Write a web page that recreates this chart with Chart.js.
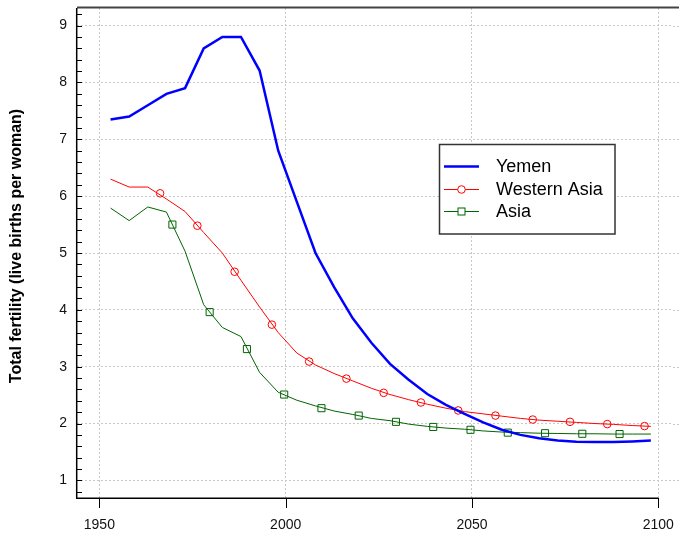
<!DOCTYPE html>
<html>
<head>
<meta charset="utf-8">
<script src="https://cdn.jsdelivr.net/npm/chart.js@4.4.0/dist/chart.umd.min.js"></script>
<style>
    html, body { margin: 0; padding: 0; background: #fff; }
    #wrap { width: 679px; height: 535px; }
</style>
</head>
<body>
<div id="wrap"><canvas id="tfrChart" width="679" height="535"></canvas></div>
<script>
// Five-year period midpoints
const years = [1953, 1958, 1963, 1968, 1973, 1978, 1983, 1988, 1993, 1998,
    2003, 2008, 2013, 2018, 2023, 2028, 2033, 2038, 2043, 2048,
    2053, 2058, 2063, 2068, 2073, 2078, 2083, 2088, 2093, 2098];

const yemenTfr = [7.35, 7.40, 7.60, 7.80, 7.90, 8.60, 8.80, 8.80, 8.21, 6.80,
    5.90, 5.00, 4.40, 3.85, 3.42, 3.05, 2.77, 2.52, 2.33, 2.17,
    2.02, 1.89, 1.80, 1.74, 1.70, 1.68, 1.675, 1.675, 1.685, 1.70];

const westernAsiaTfr = [6.30, 6.16, 6.16, 5.95, 5.73, 5.36, 5.00, 4.52, 4.05, 3.60,
    3.24, 3.03, 2.88, 2.75, 2.62, 2.51, 2.42, 2.34, 2.27, 2.21,
    2.17, 2.13, 2.09, 2.06, 2.04, 2.02, 2.00, 1.985, 1.965, 1.95];

const asiaTfr = [5.79, 5.57, 5.81, 5.72, 5.03, 4.09, 3.69, 3.53, 2.90, 2.55,
    2.41, 2.31, 2.22, 2.16, 2.09, 2.05, 1.99, 1.95, 1.92, 1.90,
    1.87, 1.85, 1.84, 1.83, 1.825, 1.82, 1.82, 1.815, 1.815, 1.815];

// Marker symbols (placed along the lines)
const westernAsiaMarkerYears = [1966.3, 1976.3, 1986.3, 1996.3, 2006.3, 2016.3, 2026.3,
    2036.3, 2046.3, 2056.3, 2066.3, 2076.3, 2086.3, 2096.3];
const westernAsiaMarkerTfr = [6.05, 5.48, 4.67, 3.74, 3.09, 2.79, 2.54,
    2.37, 2.23, 2.14, 2.07, 2.03, 1.99, 1.955];

const asiaMarkerYears = [1969.6, 1979.6, 1989.6, 1999.6, 2009.6, 2019.6, 2029.6,
    2039.6, 2049.6, 2059.6, 2069.6, 2079.6, 2089.6];
const asiaMarkerTfr = [5.50, 3.96, 3.31, 2.51, 2.27, 2.14, 2.03,
    1.94, 1.89, 1.84, 1.83, 1.82, 1.815];

const seriesNames = ['Yemen', 'Western Asia', 'Asia'];
const xTicks = [1950, 2000, 2050, 2100];
const yTicks = [1, 2, 3, 4, 5, 6, 7, 8, 9];

const BLUE = '#0000ff';
const RED = '#ff0000';
const GREEN = '#006400';
const GRID = '#c8c8c8';
const FONT = '"Liberation Sans", Arial, sans-serif';

const toPoints = (xs, ys) => xs.map((x, i) => ({ x: x, y: ys[i] }));

// axes, inward ticks, top frame line, y title and legend, drawn by hand
const framePlugin = {
    id: 'frame',
    beforeDatasetsDraw(chart) {
        // chart area stops a few px short of the canvas edge; carry the dotted grid on
        const { ctx, chartArea: a, scales: { y } } = chart;
        ctx.save();
        ctx.strokeStyle = GRID;
        ctx.lineWidth = 1;
        ctx.setLineDash([2, 2]);
        yTicks.forEach(v => {
            const py = Math.round(y.getPixelForValue(v)) + 0.5;
            ctx.beginPath();
            ctx.moveTo(a.right, py);
            ctx.lineTo(chart.width, py);
            ctx.stroke();
        });
        ctx.restore();
    },
    afterDatasetsDraw(chart) {
        const { ctx, chartArea: a, scales: { x, y } } = chart;
        ctx.save();
        ctx.setLineDash([]);

        // top frame line
        ctx.strokeStyle = '#444';
        ctx.lineWidth = 2;
        ctx.beginPath();
        ctx.moveTo(a.left, a.top - 0.5);
        ctx.lineTo(chart.width, a.top - 0.5);
        ctx.stroke();

        ctx.strokeStyle = '#000';
        ctx.lineWidth = 1.5;
        // left axis
        ctx.beginPath();
        ctx.moveTo(a.left - 0.3, a.top);
        ctx.lineTo(a.left - 0.3, a.bottom);
        ctx.stroke();
        // bottom axis, stops at the last tick
        ctx.beginPath();
        ctx.moveTo(a.left - 1, a.bottom + 0.3);
        ctx.lineTo(x.getPixelForValue(xTicks[xTicks.length - 1]), a.bottom + 0.3);
        ctx.stroke();

        // y ticks every 0.2, pointing inward
        ctx.lineWidth = 1;
        for (let k = 4; k <= 46; k++) {
            const py = Math.round(y.getPixelForValue(k / 5)) + 0.5;
            ctx.beginPath();
            ctx.moveTo(a.left, py);
            ctx.lineTo(a.left + 5, py);
            ctx.stroke();
        }
        // x ticks, pointing down
        xTicks.forEach(v => {
            const px = Math.round(x.getPixelForValue(v)) + 0.5;
            ctx.beginPath();
            ctx.moveTo(px, a.bottom);
            ctx.lineTo(px, a.bottom + 10);
            ctx.stroke();
        });

        // y axis title
        ctx.save();
        ctx.translate(17, 246);
        ctx.rotate(-Math.PI / 2);
        ctx.fillStyle = '#000';
        ctx.font = 'bold 16px ' + FONT;
        ctx.textAlign = 'center';
        ctx.textBaseline = 'middle';
        ctx.fillText('Total fertility (live births per woman)', 0, 0);
        ctx.restore();

        // legend box
        const bx = 439.5, by = 144.5, bw = 175.5, bh = 89.5;
        ctx.fillStyle = '#fff';
        ctx.fillRect(bx, by, bw, bh);
        ctx.strokeStyle = '#333';
        ctx.lineWidth = 1.5;
        ctx.strokeRect(bx, by, bw, bh);

        const rows = [166.5, 189.5, 211.5];
        const colors = [BLUE, RED, GREEN];
        const widths = [2.5, 1, 1];
        ctx.font = '18px ' + FONT;
        ctx.textAlign = 'left';
        ctx.textBaseline = 'middle';
        seriesNames.forEach((name, i) => {
            const ly = rows[i];
            ctx.strokeStyle = colors[i];
            ctx.lineWidth = widths[i];
            ctx.beginPath();
            ctx.moveTo(444, ly);
            ctx.lineTo(479, ly);
            ctx.stroke();
            if (i === 1) {
                ctx.fillStyle = '#fff';
                ctx.beginPath();
                ctx.arc(461.5, ly, 3.8, 0, Math.PI * 2);
                ctx.fill();
                ctx.stroke();
            } else if (i === 2) {
                ctx.fillStyle = '#fff';
                ctx.fillRect(458, ly - 3.5, 7, 7);
                ctx.strokeRect(458, ly - 3.5, 7, 7);
            }
            ctx.fillStyle = '#000';
            ctx.fillText(name, 496, ly + 1);
        });

        ctx.restore();
    }
};

const ctx = document.getElementById('tfrChart').getContext('2d');

new Chart(ctx, {
    type: 'line',
    data: {
        datasets: [
            {
                label: seriesNames[0],
                data: toPoints(years, yemenTfr),
                borderColor: BLUE,
                borderWidth: 2.5,
                pointRadius: 0,
                tension: 0
            },
            {
                label: seriesNames[1],
                data: toPoints(years, westernAsiaTfr),
                borderColor: RED,
                borderWidth: 1,
                pointRadius: 0,
                tension: 0
            },
            {
                label: seriesNames[1] + ' markers',
                data: toPoints(westernAsiaMarkerYears, westernAsiaMarkerTfr),
                showLine: false,
                pointStyle: 'circle',
                pointRadius: 3.8,
                borderColor: RED,
                backgroundColor: 'rgba(255,255,255,0)',
                pointBorderWidth: 1
            },
            {
                label: seriesNames[2],
                data: toPoints(years, asiaTfr),
                borderColor: GREEN,
                borderWidth: 1,
                pointRadius: 0,
                tension: 0
            },
            {
                label: seriesNames[2] + ' markers',
                data: toPoints(asiaMarkerYears, asiaMarkerTfr),
                showLine: false,
                pointStyle: 'rect',
                pointRadius: 5,
                borderColor: GREEN,
                backgroundColor: 'rgba(255,255,255,0)',
                pointBorderWidth: 1
            }
        ]
    },
    options: {
        responsive: false,
        animation: false,
        layout: { padding: { top: 8, right: 0, left: 0, bottom: 0 } },
        plugins: {
            legend: { display: false },
            tooltip: { enabled: false },
            title: { display: false }
        },
        scales: {
            x: {
                type: 'linear',
                min: 1944,
                max: 2103.94,
                afterBuildTicks: axis => { axis.ticks = xTicks.map(v => ({ value: v })); },
                afterFit: axis => {
                    axis.height = 37;
                    axis.paddingLeft = 0;
                    axis.paddingRight = 0;
                },
                grid: { color: GRID, lineWidth: 1, drawTicks: false },
                border: { display: false, dash: [2, 2] },
                ticks: {
                    color: '#111',
                    font: { family: FONT, size: 14 },
                    padding: 19,
                    maxRotation: 0,
                    callback: v => String(v)
                }
            },
            y: {
                min: 0.69,
                max: 9.31,
                afterBuildTicks: axis => { axis.ticks = yTicks.map(v => ({ value: v })); },
                afterFit: axis => {
                    axis.width = 77;
                    axis.paddingTop = 0;
                    axis.paddingBottom = 0;
                },
                grid: { color: GRID, lineWidth: 1, drawTicks: false },
                border: { display: false, dash: [2, 2] },
                ticks: {
                    color: '#111',
                    font: { family: FONT, size: 14 },
                    padding: 10,
                    callback: v => String(v)
                }
            }
        }
    },
    plugins: [framePlugin]
});
</script>
</body>
</html>
